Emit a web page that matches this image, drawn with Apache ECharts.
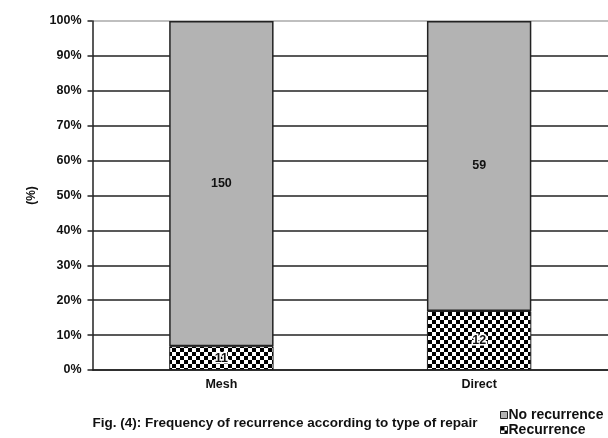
<!DOCTYPE html>
<html>
<head>
<meta charset="utf-8">
<script src="https://cdn.jsdelivr.net/npm/echarts@6/dist/echarts.min.js"></script>
<style>
  html, body { margin: 0; padding: 0; background: #fff; }
  #chart { width: 608px; height: 438px; }
</style>
</head>
<body>
<div id="chart"></div>
<script>
// Repair types and patient counts per outcome
const categories = ['Mesh', 'Direct'];
const recurrence = [11, 12];
const noRecurrence = [150, 59];
const yTicks = [0, 10, 20, 30, 40, 50, 60, 70, 80, 90, 100];
const caption = 'Fig. (4): Frequency of recurrence according to type of repair';

// Percent share of each outcome within its repair type
const totals = categories.map((_, i) => recurrence[i] + noRecurrence[i]);
const recPct = recurrence.map((v, i) => v / totals[i] * 100);
const noRecPct = noRecurrence.map((v, i) => v / totals[i] * 100);

// Black/white checkerboard fill for the recurrence segments
function checker(cell) {
  const c = document.createElement('canvas');
  c.width = cell * 2; c.height = cell * 2;
  const g = c.getContext('2d');
  g.fillStyle = '#fff'; g.fillRect(0, 0, c.width, c.height);
  g.fillStyle = '#000';
  g.fillRect(0, 0, cell, cell);
  g.fillRect(cell, cell, cell, cell);
  return c;
}
const checkerFill = { image: checker(4), repeat: 'repeat' };

const font = 'Liberation Sans, Arial, sans-serif';
const chart = echarts.init(document.getElementById('chart'), null, { renderer: 'canvas' });

chart.setOption({
  animation: false,
  backgroundColor: '#fff',
  textStyle: { fontFamily: font },
  grid: { left: 92.5, top: 21, bottom: 68, width: 520, containLabel: false },
  title: {
    text: caption,
    left: 285, textAlign: 'center', top: 415, padding: 0,
    textStyle: { fontSize: 13.5, fontWeight: 'bold', color: '#111', lineHeight: 16 }
  },
  legend: {
    orient: 'vertical', left: 500, top: 408, padding: 0,
    icon: 'rect',
    itemWidth: 7, itemHeight: 7, itemGap: 1,
    data: ['No recurrence', 'Recurrence'],
    itemStyle: { borderColor: '#222', borderWidth: 1 },
    textStyle: { fontSize: 14, fontWeight: 'bold', color: '#111', lineHeight: 14, padding: [0, 0, 0, -4] }
  },
  xAxis: {
    type: 'category',
    data: categories,
    axisLine: { lineStyle: { color: '#222', width: 1.5 } },
    axisTick: { show: false },
    axisLabel: { fontSize: 12.5, fontWeight: 'bold', color: '#111', margin: 8 }
  },
  yAxis: {
    type: 'value',
    min: 0, max: 100, interval: 10,
    name: '(%)', nameLocation: 'middle', nameGap: 55, nameRotate: 90,
    nameTextStyle: { fontSize: 12, fontWeight: 'bold', color: '#111' },
    axisLine: { show: true, lineStyle: { color: '#222', width: 1.5 } },
    axisTick: { show: true, inside: false, length: 5, lineStyle: { color: '#222', width: 1.5 } },
    axisLabel: {
      fontSize: 12.5, fontWeight: 'bold', color: '#111', margin: 11,
      formatter: v => yTicks.includes(v) ? v + '%' : ''
    },
    splitLine: {
      show: true,
      lineStyle: { color: ['#222', '#222', '#222', '#222', '#222', '#222', '#222', '#222', '#222', '#222', '#aaa'], width: 1.5 }
    }
  },
  series: [
    {
      name: 'Recurrence', type: 'bar', stack: 'all', barWidth: '40.5%',
      data: recPct,
      itemStyle: { color: checkerFill, borderColor: '#222', borderWidth: 1 },
      label: {
        show: true, position: 'inside',
        formatter: p => recurrence[p.dataIndex],
        fontSize: 12.5, fontWeight: 'bold', color: '#111',
        textBorderColor: '#fff', textBorderWidth: 3
      }
    },
    {
      name: 'No recurrence', type: 'bar', stack: 'all', barWidth: '40.5%',
      data: noRecPct,
      itemStyle: { color: '#b3b3b3', borderColor: '#222', borderWidth: 1.5 },
      label: {
        show: true, position: 'inside',
        formatter: p => noRecurrence[p.dataIndex],
        fontSize: 12.5, fontWeight: 'bold', color: '#111'
      }
    }
  ]
});
</script>
</body>
</html>
